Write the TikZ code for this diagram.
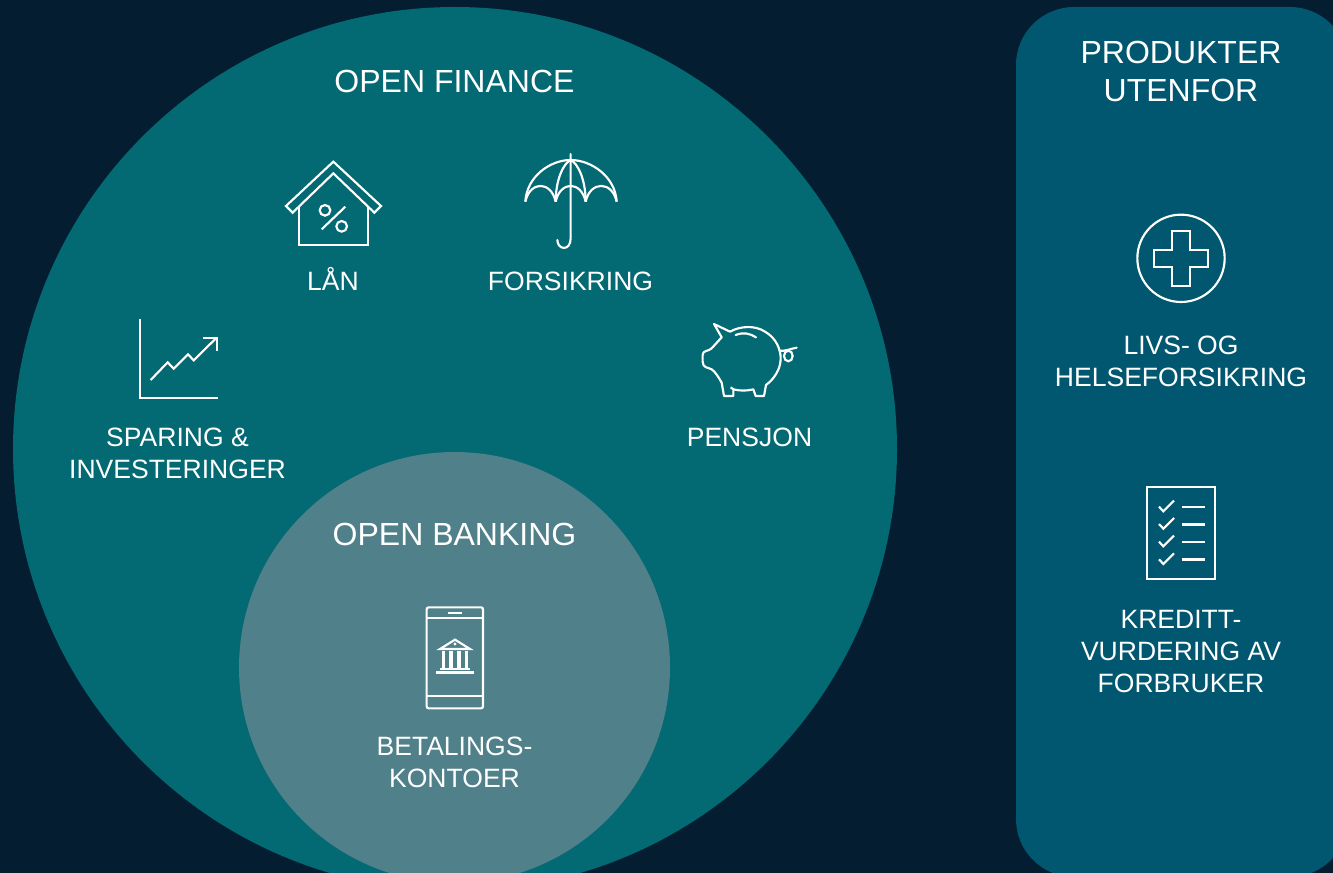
\documentclass[tikz,border=0pt]{standalone}
\usepackage{fontspec}
\setmainfont{Liberation Sans}
\definecolor{bgnavy}{HTML}{041D30}
\definecolor{financeteal}{HTML}{036973}
\definecolor{bankinggrey}{HTML}{508089}
\definecolor{panelblue}{HTML}{00576F}
\tikzset{
  bigtext/.style={text=white, align=center, font=\fontsize{24}{28.5}\selectfont},
  smalltext/.style={text=white, align=center, font=\fontsize{19.9}{24}\selectfont},
  icon/.style={draw=white, line width=1.6pt, line join=miter}
}

\begin{document}
\begin{tikzpicture}[x=0.75pt, y=-0.75pt]
	\useasboundingbox (0,0) rectangle (1333,873);
	\clip (0,0) rectangle (1333,873);
	\fill[bgnavy] (0,0) rectangle (1333,873);
	% Circles and panel
	\fill[financeteal] (455,449) circle (442);
	\fill[bankinggrey] (454.5,667.5) circle (215.5);
	\fill[panelblue, rounded corners=43.5pt] (1016,7) rectangle (1348,877);
	% Labels
	\node[bigtext] (finance) at (454.5,81.5) {OPEN FINANCE};
	\node[bigtext] (banking) at (454.5,534.5) {OPEN BANKING};
	\node[bigtext] (outside) at (1181,71.5) {PRODUKTER\\UTENFOR};
	\node[smalltext] (loan) at (333,279) {LÅN};
	\node[smalltext] (insurance) at (570.5,281.3) {FORSIKRING};
	\node[smalltext] (savings) at (177.5,453.3) {SPARING \&\\INVESTERINGER};
	\node[smalltext] (pension) at (749.5,437.3) {PENSJON};
	\node[smalltext] (accounts) at (454.5,762) {BETALINGS-\\KONTOER};
	\node[smalltext] (life) at (1181,361.3) {LIVS- OG\\HELSEFORSIKRING};
	\node[smalltext] (credit) at (1181,651.3) {KREDITT-\\VURDERING AV\\FORBRUKER};
	% House
	\begin{scope}[shift={(270,140)}, scale=1/3]
		\draw[icon] (48,198) -- (190,65) -- (333,198) -- (313,218) -- (190,100) -- (68,218) -- cycle;
		\draw[icon] (88,198) -- (88,316) -- (294,316) -- (294,198);
		\draw[icon] (165,211) circle (16);
		\draw[icon] (215,259) circle (16);
		\draw[icon] (155,268) -- (226,200);
	\end{scope}
	% Umbrella
	\begin{scope}[shift={(270,140)}, scale=1/3]
		\draw[icon] (766,185) .. controls (770,110) and (840,60) .. (902,60) .. controls (964,60) and (1036,110) .. (1040,185);
		\draw[icon] (766,185) .. controls (780,122) and (843,122) .. (857,185);
		\draw[icon] (857,185) .. controls (871,122) and (933,122) .. (947,185);
		\draw[icon] (947,185) .. controls (961,122) and (1026,122) .. (1040,185);
		\draw[icon] (857,185) .. controls (857,120) and (880,70) .. (902,60);
		\draw[icon] (947,185) .. controls (947,120) and (924,70) .. (902,60);
		\draw[icon, line cap=round] (902,42) -- (902,295) .. controls (902,335) and (862,330) .. (862,300);
	\end{scope}
	% Chart
	\begin{scope}[shift={(120,310)}, scale=1/3]
		\draw[icon] (59,28) -- (59,263) -- (294,263);
		\draw[icon] (92,210) -- (143,157) -- (161,176) -- (204,133) -- (221,151) -- (290,83);
		\draw[icon] (250,83) -- (291,83) -- (291,122);
	\end{scope}
	% Pig
	\begin{scope}[shift={(690,310)}, scale=1/3]
		\draw[icon, line join=round] (72,42) -- (120,65) .. controls (150,48) and (195,45) .. (225,65)
			.. controls (260,85) and (272,120) .. (272,145) .. controls (272,175) and (255,205) .. (228,225)
			-- (222,258) -- (197,258) -- (190,238) .. controls (170,243) and (150,243) .. (130,238)
			-- (130,258) -- (102,258) -- (95,218) .. controls (85,200) and (75,185) .. (65,178)
			.. controls (55,172) and (38,175) .. (38,155) -- (38,135) .. controls (38,120) and (55,125) .. (65,115)
			-- (95,82) -- cycle;
		\draw[icon] (122,232) -- (130,238);
		\draw[icon, line cap=round] (137,75) .. controls (160,66) and (180,70) .. (198,82);
		\draw[icon, line cap=round] (268,122) .. controls (285,125) and (305,115) .. (320,113);
		\draw[icon] (295,138) ellipse (13 and 16);
	\end{scope}
	% Phone with bank
	\begin{scope}[shift={(410,595)}, scale=1/3]
		\draw[icon, rounded corners=1.5pt] (50,37) rectangle (219,340);
		\draw[icon] (50,68) -- (219,68);
		\draw[icon] (50,303) -- (219,303);
		\fill[white] (115,50) rectangle (155,57);
		\draw[icon] (135,134) -- (90,162) -- (180,162) -- cycle;
		\fill[white] (135,147) circle (5);
		\foreach \colx in {100,123,147,170}
			\fill[white] (\colx-5,167) rectangle (\colx+5,219);
		\fill[white] (90,219) rectangle (180,226);
		\fill[white] (78,228) rectangle (192,237);
	\end{scope}
	% Cross in a circle
	\begin{scope}[shift={(1120,205)}, scale=1/3]
		\draw[icon] (183,160) circle (131);
		\draw[icon] (157,79) -- (210,79) -- (210,135) -- (265,135) -- (265,186) -- (210,186) -- (210,242)
			-- (157,242) -- (157,186) -- (102,186) -- (102,135) -- (157,135) -- cycle;
	\end{scope}
	% Checklist
	\begin{scope}[shift={(1130,480)}, scale=1/3]
		\draw[icon] (50,21) rectangle (255,297);
		\foreach \rowy in {0,52,105,158} {
			\draw[icon] (87,80+\rowy) -- (100,94+\rowy) -- (132,62+\rowy);
			\draw[icon, line width=2.2pt] (157,81+\rowy) -- (225,81+\rowy);
		}
	\end{scope}
\end{tikzpicture}
\end{document}
